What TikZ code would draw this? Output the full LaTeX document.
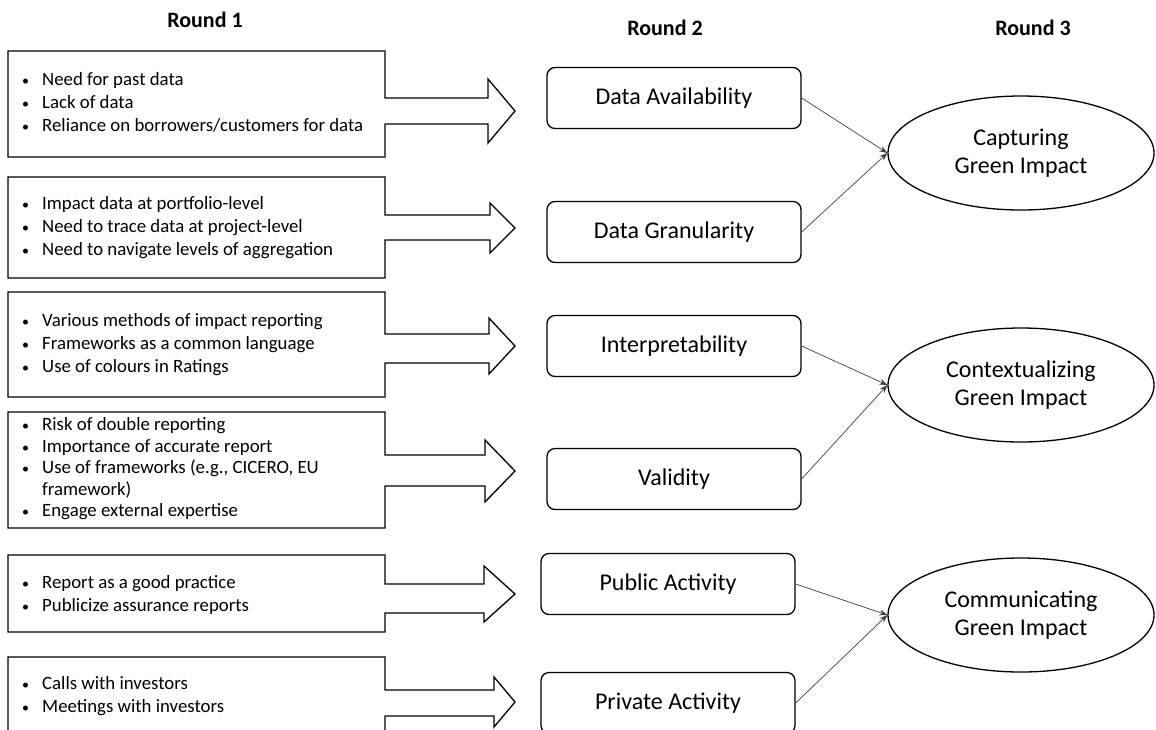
\documentclass[tikz,border=0pt]{standalone}
\usepackage{fontspec}
\setmainfont{Carlito}
\usetikzlibrary{arrows.meta,shapes.geometric}
\newcommand\leftshape[8]{%
  \draw[arrowbox] (8,#1) -- (385,#1) -- (385,#3) -- (#8,#3) -- (#8,#5) -- (515,#7)
    -- (#8,#6) -- (#8,#4) -- (385,#4) -- (385,#2) -- (8,#2) -- cycle;}
\newcommand\bul{{\fontsize{14}{14}\selectfont\textbullet}}
\begin{document}
\begin{tikzpicture}[x=1pt,y=-1pt,
  arrowbox/.style={draw=black,line width=1.3pt,line join=miter},
  bullets/.style={anchor=west,inner sep=0pt,font=\fontsize{18.8}{23}\selectfont,align=left},
  roundbox/.style={draw=black,line width=1.3pt,rounded corners=8pt,minimum width=254pt,minimum height=61pt,font=\fontsize{24}{28}\selectfont},
  oval/.style={ellipse,draw=black,line width=1.3pt,minimum width=266pt,minimum height=114pt,inner sep=0pt,align=center,font=\fontsize{24}{28}\selectfont},
  header/.style={font=\fontsize{22}{24}\selectfont\bfseries},
  link/.style={draw=black!75,line width=0.7pt,-{Stealth[length=8pt,width=6pt]}}]
\useasboundingbox (0,0) rectangle (1156,729);
\clip (0,0) rectangle (1156,729);
% headers
\node[header] (h1) at (205,20) {Round 1};
\node[header] (h2) at (665,28) {Round 2};
\node[header] (h3) at (1033,28) {Round 3};
% left arrow boxes
\leftshape{51}{157}{98}{124}{79}{143}{111}{488}
\leftshape{177}{278}{215}{240}{203}{253}{228}{490}
\leftshape{292}{397}{334}{363}{318}{374}{346}{489}
\leftshape{412}{528}{455}{486}{440}{502}{471}{485}
\leftshape{555}{632}{584}{613}{566}{622}{594}{484}
\leftshape{657}{760}{690}{716}{677}{727}{702}{494}
\def\bw{\makebox[23pt][l]{\hspace{3pt}\bul}}
\node[bullets] (t1) at (19,102) {\bw Need for past data\\ \bw Lack of data\\ \bw Reliance on borrowers/customers for data};
\node[bullets] (t2) at (19,228) {\bw Impact data at portfolio-level\\ \bw Need to trace data at project-level\\ \bw Need to navigate levels of aggregation};
\node[bullets] (t3) at (19,345) {\bw Various methods of impact reporting\\ \bw Frameworks as a common language\\ \bw Use of colours in Ratings};
\node[bullets,font=\fontsize{18.8}{21.5}\selectfont] (t4) at (19,469) {\bw Risk of double reporting\\ \bw Importance of accurate report\\ \bw Use of frameworks (e.g., CICERO, EU\\ \hspace{23pt}framework)\\ \bw Engage external expertise};
\node[bullets] (t5) at (19,595) {\bw Report as a good practice\\ \bw Publicize assurance reports};
\node[bullets] (t6) at (19,696) {\bw Calls with investors\\ \bw Meetings with investors};
% round 2 boxes
\node[roundbox] (da) at (674,98) {Data Availability};
\node[roundbox] (dg) at (674,232) {Data Granularity};
\node[roundbox] (ip) at (674,346) {Interpretability};
\node[roundbox] (va) at (674,479) {Validity};
\node[roundbox] (pu) at (668,584) {Public Activity};
\node[roundbox] (pr) at (668,703) {Private Activity};
% round 3 ellipses
\node[oval] (e1) at (1021,153) {Capturing\\Green Impact};
\node[oval] (e2) at (1021,385) {Contextualizing\\Green Impact};
\node[oval] (e3) at (1021,615) {Communicating\\Green Impact};
% links
\draw[link] (da.east) -- (e1.west);
\draw[link] (dg.east) -- (e1.west);
\draw[link] (ip.east) -- (e2.west);
\draw[link] (va.east) -- (e2.west);
\draw[link] (pu.east) -- (e3.west);
\draw[link] (pr.east) -- (e3.west);
\end{tikzpicture}
\end{document}
